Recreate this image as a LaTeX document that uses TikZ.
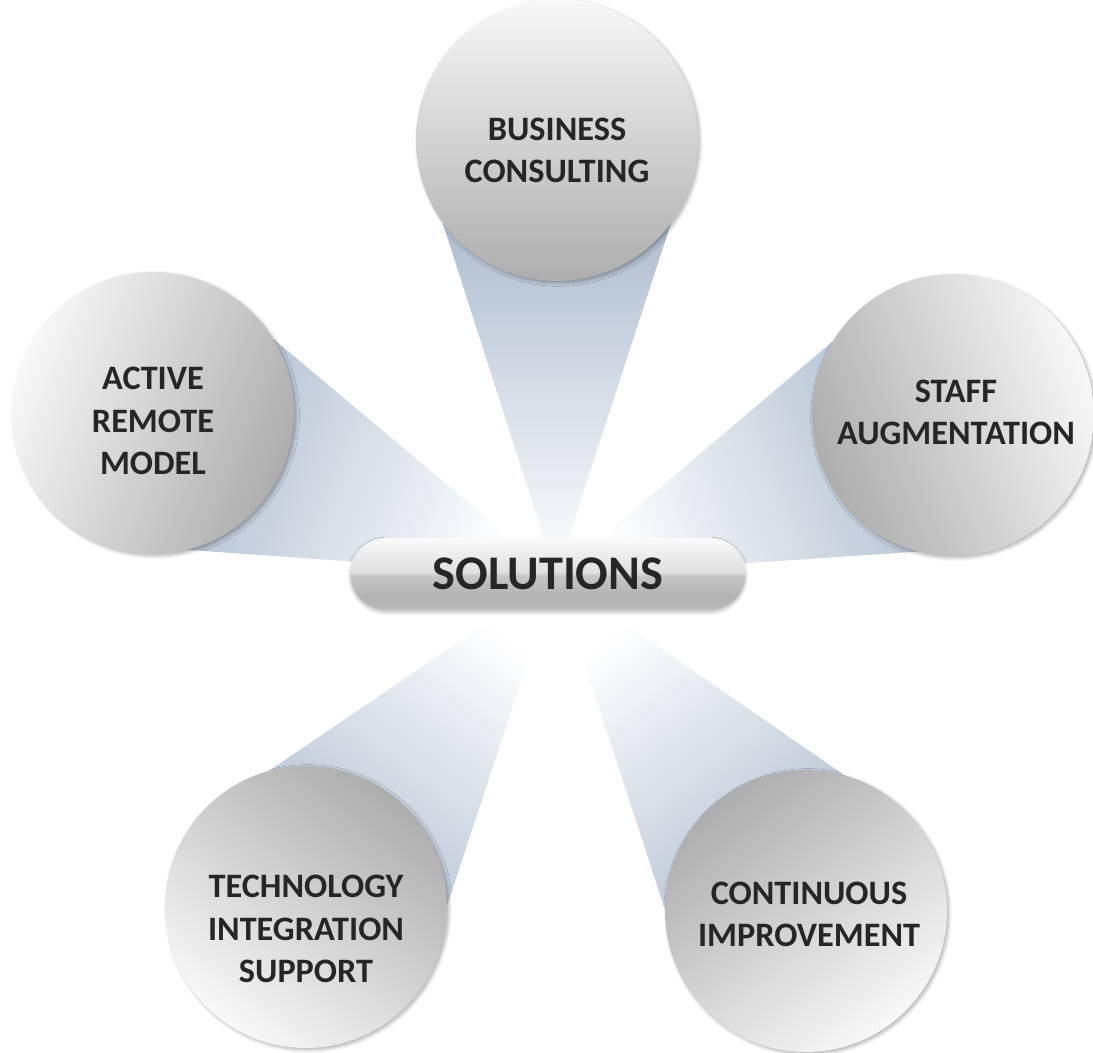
\documentclass[tikz,border=0pt]{standalone}
\usepackage{fontspec}
\setmainfont{Carlito}
\usetikzlibrary{calc,shadows.blur,shapes.misc}

\definecolor{beamdark}{HTML}{9CAEC5}
\definecolor{balldark}{HTML}{ADADAD}
\definecolor{balllight}{HTML}{F8F8F8}
\definecolor{textcol}{HTML}{262626}
\definecolor{pillA}{HTML}{BDBDBD}
\definecolor{pillB}{HTML}{B2B2B2}
\definecolor{pillC}{HTML}{C6C6C6}
\definecolor{pillD}{HTML}{DEDEDE}
\definecolor{pillE}{HTML}{FBFBFB}

\pgfdeclareverticalshading{pillshade}{100bp}{color(0bp)=(pillA); color(25bp)=(pillA); color(34bp)=(pillB); color(49bp)=(pillC); color(51bp)=(pillD); color(75bp)=(pillE); color(100bp)=(pillE)}

\begin{document}
\begin{tikzpicture}[
      x=0.02cm, y=-0.02cm,
      ball/.style={
        circle,
        minimum size=5.64cm,
        inner sep=0pt,
        top color=balldark,
        bottom color=balllight,
        shading angle=#1,
        blur shadow={shadow xshift=0.4mm, shadow yshift=-0.4mm, shadow blur steps=6, shadow opacity=30}
      },
      balltext/.style={
        text=textcol,
        font=\fontsize{19.5}{24}\selectfont\bfseries,
        align=center
      },
      beam/.style={
        top color=beamdark,
        bottom color=white,
        shading angle=#1
      },
      pill/.style={
        rounded rectangle,
        minimum width=8.14cm,
        minimum height=1.44cm,
        shading=pillshade,
        text=textcol,
        font=\fontsize{27.5}{31}\selectfont\bfseries,
        blur shadow={shadow xshift=0mm, shadow yshift=-0.5mm, shadow blur steps=8, shadow opacity=25}
      }
    ]
    \useasboundingbox (0,0) rectangle (1093,1053);

    % Centres
    \coordinate (apex) at (556,576);
    \coordinate (cBusiness) at (557,140);
    \coordinate (cActive) at (153,413);
    \coordinate (cStaff) at (953,415);
    \coordinate (cTech) at (306,907);
    \coordinate (cCont) at (806,911);

    % Beams
    \path[beam=0] (apex) -- ($(cBusiness)!2.82cm!90:(apex)$) -- ($(cBusiness)!2.82cm!-90:(apex)$) -- cycle;
    \path[beam=68] (apex) -- ($(cActive)!2.82cm!90:(apex)$) -- ($(cActive)!2.82cm!-90:(apex)$) -- cycle;
    \path[beam=-68] (apex) -- ($(cStaff)!2.82cm!90:(apex)$) -- ($(cStaff)!2.82cm!-90:(apex)$) -- cycle;
    \path[beam=143] (apex) -- ($(cTech)!2.82cm!90:(apex)$) -- ($(cTech)!2.82cm!-90:(apex)$) -- cycle;
    \path[beam=217] (apex) -- ($(cCont)!2.82cm!90:(apex)$) -- ($(cCont)!2.82cm!-90:(apex)$) -- cycle;

    % Circles
    \node[ball=180, label={[balltext, yshift=-0.2cm]center:BUSINESS\\CONSULTING}] (business) at (cBusiness) {};
    \node[ball=248, label={[balltext, yshift=-0.16cm]center:ACTIVE\\REMOTE\\MODEL}] (active) at (cActive) {};
    \node[ball=112, label={[balltext, xshift=0.06cm, yshift=0.06cm]center:STAFF\\AUGMENTATION}] (staff) at (cStaff) {};
    \node[ball=323, label={[balltext, yshift=-0.44cm]center:TECHNOLOGY\\INTEGRATION\\SUPPORT}] (tech) at (cTech) {};
    \node[ball=37, label={[balltext, xshift=0.06cm, yshift=-0.06cm]center:CONTINUOUS\\IMPROVEMENT}] (cont) at (cCont) {};

    % Centre
    \node[pill] (solutions) at (548,574) {SOLUTIONS};
\end{tikzpicture}
\end{document}
